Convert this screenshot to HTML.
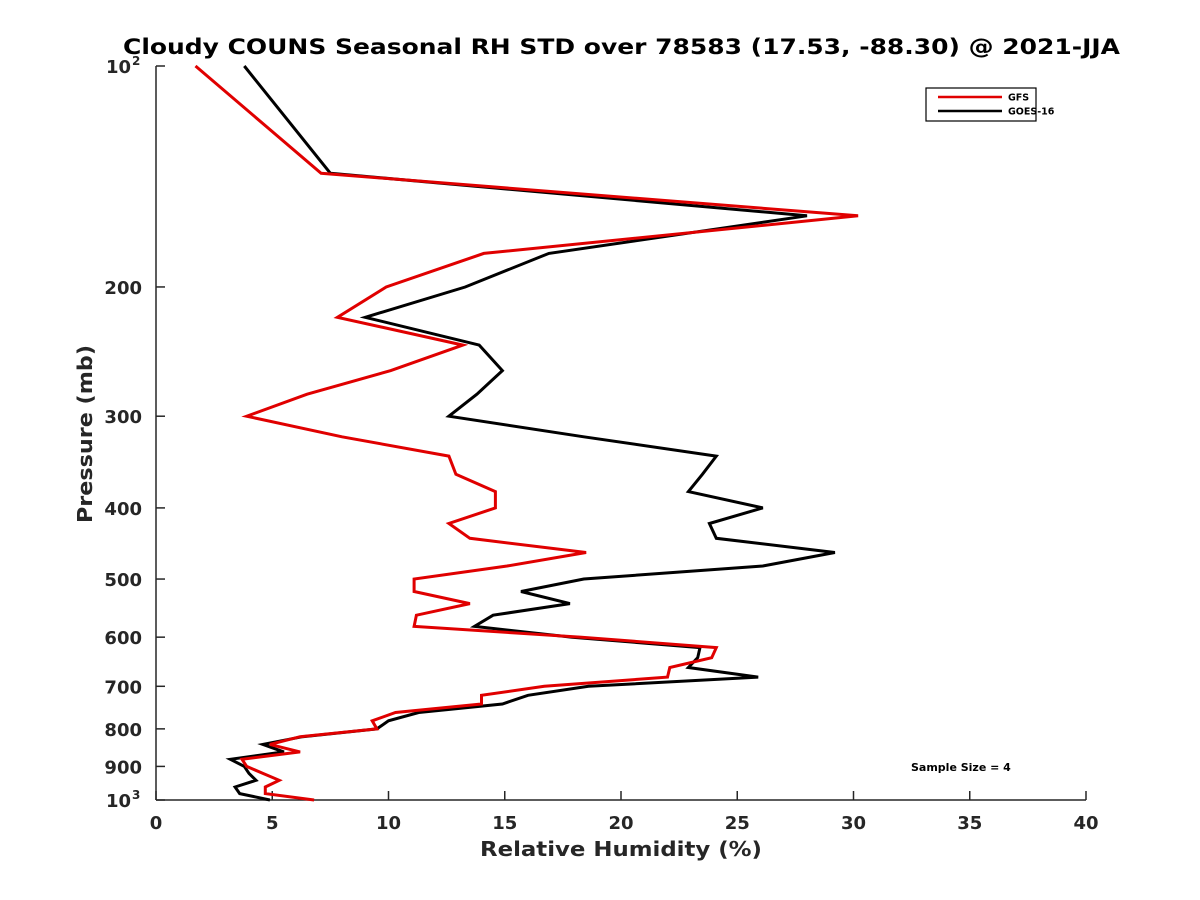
<!DOCTYPE html>
<html><head><meta charset="utf-8"><style>
body{margin:0;background:#fff;}
svg{display:block;font-family:"DejaVu Sans","Liberation Sans",sans-serif;}
</style></head><body>
<svg id="chart" width="1200" height="900" viewBox="0 0 1200 900">
<rect width="1200" height="900" fill="#fff"/>
<text x="123" y="54" textLength="997" lengthAdjust="spacingAndGlyphs" font-size="21" font-weight="bold" fill="#000">Cloudy COUNS Seasonal RH STD over 78583 (17.53, -88.30) @ 2021-JJA</text>
<g id="axes"></g>
<g id="series"></g>
<g>
<rect x="926" y="88" width="110" height="33" fill="#fff" stroke="#000" stroke-width="1.2"/>
<line x1="938" y1="97" x2="1002" y2="97" stroke="#e00000" stroke-width="2.5"/>
<text x="1008" y="100.5" font-size="9.5" font-weight="bold">GFS</text>
<line x1="938" y1="111" x2="1002" y2="111" stroke="#000" stroke-width="2.5"/>
<text x="1008" y="114.5" font-size="9.5" font-weight="bold">GOES-16</text>
</g>
<text x="911" y="771" font-size="11" font-weight="bold">Sample Size = 4</text>
<text x="480" y="856" textLength="282" lengthAdjust="spacingAndGlyphs" font-size="20" font-weight="bold" fill="#262626">Relative Humidity (%)</text>
<text transform="translate(92,523) rotate(-90)" textLength="178" lengthAdjust="spacingAndGlyphs" font-size="20" font-weight="bold" fill="#262626">Pressure (mb)</text>
</svg>
<script>
const pressures=[100,140,160,180,200,220,240,260,280,300,320,340,360,380,400,420,440,460,480,500,520,540,560,580,600,620,640,660,680,700,720,740,760,780,800,820,840,860,880,900,920,940,960,980,1000];
const gfsValues=[1.7,7.1,30.2,14.1,9.9,7.8,13.2,10.1,6.5,3.9,8.0,12.6,12.9,14.6,14.6,12.6,13.5,18.5,15.1,11.1,11.1,13.5,11.2,11.1,18.3,24.1,23.9,22.1,22.0,16.7,14.0,14.0,10.3,9.3,9.5,6.2,4.9,6.2,3.7,3.9,4.6,5.3,4.7,4.7,6.8];
const goesValues=[3.8,7.5,28.0,16.9,13.3,9.0,13.9,14.9,13.8,12.6,18.4,24.1,23.5,22.9,26.1,23.8,24.1,29.2,26.1,18.4,15.7,17.8,14.5,13.7,17.9,23.4,23.3,22.9,25.9,18.6,16.0,14.9,11.3,10.0,9.5,6.3,4.6,5.5,3.2,3.8,4.0,4.3,3.4,3.6,4.9];
const xTicks=[0,5,10,15,20,25,30,35,40];
const yTicks=[100,200,300,400,500,600,700,800,900,1000];
const yTickLabels=["10","200","300","400","500","600","700","800","900","10"];
const yTickSup=["2","","","","","","","","","3"];
const NS="http://www.w3.org/2000/svg";
const X0=156,X1=1086,Y0=66,Y1=800,XMIN=0,XMAX=40;
function xs(v){return X0+(v-XMIN)/(XMAX-XMIN)*(X1-X0);}
function ys(p){return Y0+(Math.log10(p)-2)*(Y1-Y0);}
function mk(tag,attrs,parent){const e=document.createElementNS(NS,tag);for(const k in attrs)e.setAttribute(k,attrs[k]);parent.appendChild(e);return e;}
const axes=document.getElementById('axes');
const xl=mk('line',{x1:X0,y1:Y1,x2:X1,y2:Y1,stroke:'#262626','stroke-width':1.5},axes);


const yl=mk('line',{x1:X0,y1:Y0,x2:X0,y2:Y1,stroke:'#262626','stroke-width':1.5},axes);


xTicks.forEach(v=>{
  const t=mk('line',{x1:xs(v),y1:Y1,x2:xs(v),y2:Y1-9,stroke:'#262626','stroke-width':1.5},axes);
  
  
  const l=mk('text',{x:xs(v),y:Y1+29,'text-anchor':'middle','font-size':18,'font-weight':'bold',fill:'#262626'},axes);
  l.textContent=v;
  
  
});
yTicks.forEach((p,i)=>{
  const t=mk('line',{x1:X0,y1:ys(p),x2:X0+9,y2:ys(p),stroke:'#262626','stroke-width':1.5},axes);
  
  
  const l=mk('text',{x:X0-14,y:ys(p)+7,'text-anchor':'end','font-size':18,'font-weight':'bold',fill:'#262626'},axes);
  
  
  if(yTickSup[i]){
    l.setAttribute('x',X0-25);
    l.textContent=yTickLabels[i];
    const s=mk('text',{x:X0-24,y:ys(p)-1,'font-size':12,'font-weight':'bold',fill:'#262626'},axes);
    s.textContent=yTickSup[i];
    
    
  } else {
    l.textContent=yTickLabels[i];
  }
});
const ser=document.getElementById('series');
function line(vals,color,name){
  const d=vals.map((v,i)=>(i?'L':'M')+xs(v).toFixed(1)+' '+ys(pressures[i]).toFixed(1)).join(' ');
  const p=mk('path',{d:d,fill:'none',stroke:color,'stroke-width':3,'stroke-linejoin':'miter'},ser);
  
  
}
line(goesValues,'#000','goes16-line');
line(gfsValues,'#e00000','gfs-line');
</script>
</body></html>
